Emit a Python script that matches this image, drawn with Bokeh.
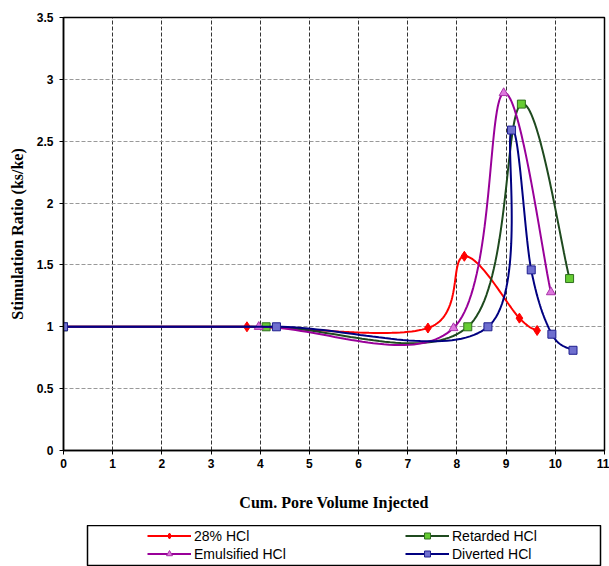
import numpy as np
from bokeh.plotting import figure
from bokeh.layouts import column
from bokeh.models import Range1d, FixedTicker, Legend, LegendItem
from bokeh.embed import file_html
from bokeh.resources import INLINE

# ---- data ----
x_hcl28 = [0, 3.73, 7.41, 8.15, 9.27, 9.63]
y_hcl28 = [1.0, 1.0, 0.99, 1.57, 1.07, 0.97]

x_emul = [0, 3.97, 7.93, 8.95, 9.91]
y_emul = [1.0, 1.0, 0.99, 2.89, 1.28]

x_retard = [0, 4.12, 8.22, 9.31, 10.29]
y_retard = [1.0, 1.0, 1.0, 2.80, 1.39]

x_divert = [0, 4.33, 8.63, 9.11, 9.51, 9.93, 10.36]
y_divert = [1.0, 1.0, 1.0, 2.59, 1.46, 0.94, 0.81]

x_ticks = list(range(0, 12))
x_tick_labels = [str(v) for v in x_ticks]
y_ticks = [0, 0.5, 1, 1.5, 2, 2.5, 3, 3.5]
y_tick_labels = ["0", "0.5", "1", "1.5", "2", "2.5", "3", "3.5"]

series_names = ["28% HCl", "Retarded HCl", "Emulsified HCl", "Diverted HCl"]
legend_col1 = ["28% HCl", "Emulsified HCl"]
legend_col2 = ["Retarded HCl", "Diverted HCl"]


def excel_smooth(xs, ys, n=40):
    """Catmull-Rom style Bezier smoothing as used by spreadsheet 'smoothed lines'."""
    pts = np.column_stack([np.asarray(xs, float), np.asarray(ys, float)])
    P = np.vstack([pts[0], pts, pts[-1]])
    t = np.linspace(0, 1, n)[:, None]
    segs = []
    for i in range(1, len(P) - 2):
        p0, p1, p2, p3 = P[i - 1], P[i], P[i + 1], P[i + 2]
        c1 = p1 + (p2 - p0) / 6.0
        c2 = p2 - (p3 - p1) / 6.0
        seg = ((1 - t) ** 3) * p1 + 3 * ((1 - t) ** 2) * t * c1 + 3 * (1 - t) * (t ** 2) * c2 + (t ** 3) * p2
        segs.append(seg if i == 1 else seg[1:])
    s = np.vstack(segs)
    return s[:, 0], s[:, 1]


p = figure(width=609, height=525, output_backend="svg", toolbar_location=None,
           x_range=Range1d(0, 11), y_range=Range1d(0, 3.5),
           min_border_left=63, min_border_right=5, min_border_top=17, min_border_bottom=75,
           background_fill_color="white", border_fill_color="white")

p.outline_line_color = "black"
p.outline_line_width = 1.5

# grid
p.xgrid.ticker = FixedTicker(ticks=x_ticks)
p.ygrid.ticker = FixedTicker(ticks=y_ticks)
p.xgrid.grid_line_color = "#333333"
p.xgrid.grid_line_dash = "4 2"
p.xgrid.grid_line_width = 1
p.ygrid.grid_line_color = "#999999"
p.ygrid.grid_line_dash = "4 2"
p.ygrid.grid_line_width = 1

# axes
p.xaxis.ticker = FixedTicker(ticks=x_ticks)
p.yaxis.ticker = FixedTicker(ticks=y_ticks)
p.xaxis.major_label_overrides = {v: l for v, l in zip(x_ticks, x_tick_labels)}
p.yaxis.major_label_overrides = {v: l for v, l in zip(y_ticks, y_tick_labels)}
for ax in (p.xaxis, p.yaxis):
    ax.axis_line_color = "black"
    ax.axis_line_width = 1.5
    ax.major_tick_line_color = "black"
    ax.major_tick_in = 0
    ax.major_tick_out = 4
    ax.minor_tick_line_color = None
    ax.major_label_text_font = "Liberation Sans"
    ax.major_label_text_font_style = "bold"
    ax.major_label_text_font_size = "12px"
    ax.major_label_text_color = "black"
    ax.axis_label_text_font = "Liberation Serif"
    ax.axis_label_text_font_style = "bold"
    ax.axis_label_text_font_size = "16px"
    ax.axis_label_text_color = "black"

p.xaxis.axis_label = "Cum. Pore Volume Injected"
p.xaxis.major_label_standoff = 4
p.xaxis.axis_label_standoff = 23
p.yaxis.axis_label = "Stimulation Ratio (ks/ke)"
p.yaxis.major_label_standoff = 6
p.yaxis.axis_label_standoff = 8

# series
styles = {
    "28% HCl": dict(line="#ff0000", marker="diamond", fill="#ff0000", edge="#ff0000", size=10),
    "Retarded HCl": dict(line="#1f4a1f", marker="square", fill="#66cc33", edge="#2f6f1f", size=8),
    "Emulsified HCl": dict(line="#990099", marker="triangle", fill="#dd77dd", edge="#aa33aa", size=9),
    "Diverted HCl": dict(line="#000080", marker="square", fill="#6f6fcf", edge="#1f1f8f", size=8),
}
data = {
    "28% HCl": (x_hcl28, y_hcl28),
    "Retarded HCl": (x_retard, y_retard),
    "Emulsified HCl": (x_emul, y_emul),
    "Diverted HCl": (x_divert, y_divert),
}

for name in series_names:
    xs, ys = data[name]
    st = styles[name]
    sx, sy = excel_smooth(xs, ys)
    p.line(sx, sy, line_color=st["line"], line_width=2)
    p.scatter(xs, ys, marker=st["marker"], size=st["size"],
              fill_color=st["fill"], line_color=st["edge"], line_width=1)

# ---- legend panel (boxed, two columns) ----
# its view window lies outside the data domain, so only the legend shows
lf = figure(width=581, height=41, output_backend="svg", toolbar_location=None,
            x_axis_type=None, y_axis_type=None,
            x_range=Range1d(-3, -2), y_range=Range1d(-3, -2),
            min_border=0, margin=(0, 0, 0, 24),
            background_fill_color="white", border_fill_color="white")
lf.xgrid.visible = False
lf.ygrid.visible = False
lf.outline_line_color = "black"
lf.outline_line_width = 1.5

leg_renderers = {}
for name in series_names:
    xs, ys = data[name]
    st = styles[name]
    lr = lf.line(xs, ys, line_color=st["line"], line_width=2)
    mr = lf.scatter(xs, ys, marker=st["marker"], size=st["size"] - 1,
                    fill_color=st["fill"], line_color=st["edge"], line_width=1)
    leg_renderers[name] = [lr, mr]


def make_legend(names, vx):
    return Legend(items=[LegendItem(label=n, renderers=leg_renderers[n]) for n in names],
                  location=(vx, 4.5), orientation="vertical",
                  padding=0, margin=0, spacing=2, label_standoff=3,
                  glyph_width=44, glyph_height=15, label_height=15,
                  label_text_font="Liberation Sans", label_text_font_size="14px",
                  label_text_color="black",
                  border_line_alpha=0, background_fill_alpha=0)


lf.add_layout(make_legend(legend_col1, 60))
lf.add_layout(make_legend(legend_col2, 318))

layout = column(p, lf, spacing=0)
open("out.html", "w").write(file_html(layout, INLINE))
